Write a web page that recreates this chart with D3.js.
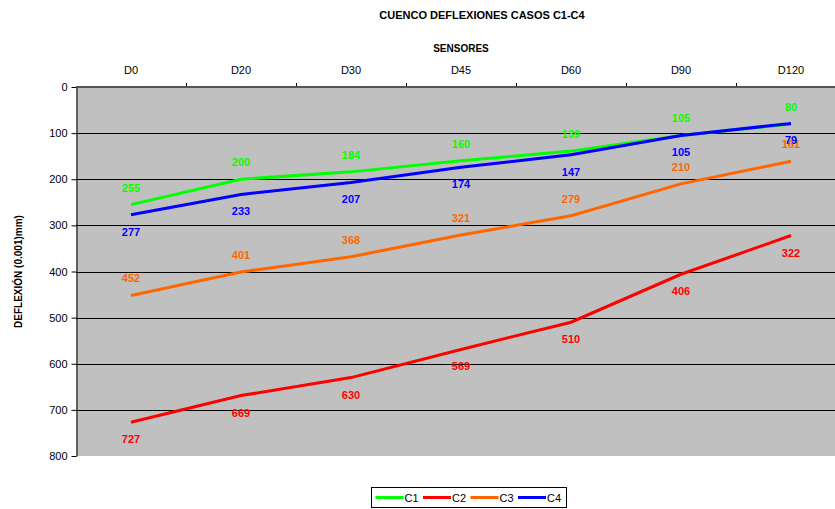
<!DOCTYPE html>
<html>
<head>
<meta charset="utf-8">
<script src="https://cdn.jsdelivr.net/npm/d3@7"></script>
<style>
  body { margin: 0; background: #fff; }
  text { font-family: "Liberation Sans", Arial, sans-serif; }
</style>
</head>
<body>
<div class="container"></div>
<script>
// sensors along the top axis
const sensors = ["D0", "D20", "D30", "D45", "D60", "D90", "D120"];

// deflections per case (0.001 mm)
const c1 = [255, 200, 184, 160, 139, 105, 80];
const c2 = [727, 669, 630, 569, 510, 406, 322];
const c3 = [452, 401, 368, 321, 279, 210, 161];
const c4 = [277, 233, 207, 174, 147, 105, 79];

const yTicks = [0, 100, 200, 300, 400, 500, 600, 700, 800];

const seriesNames = ["C1", "C2", "C3", "C4"];
const seriesValues = [c1, c2, c3, c4];
const seriesColors = ["#00ff00", "#ff0000", "#ff6600", "#0000ff"];
// data label goes above (-1) or below (+1) the point
const labelSide = [-1, 1, -1, 1];

const width = 835;
const height = 509;

const svg = d3.select(".container")
              .append("svg")
              .attr("width", width)
              .attr("height", height);

const x = d3.scaleBand()
            .domain(sensors)
            .range([76, 846]);

const y = d3.scaleLinear()
            .domain([0, 800])
            .range([87, 456]);

// plot background
svg.append("rect")
   .attr("x", x.range()[0])
   .attr("y", y(0))
   .attr("width", x.range()[1] - x.range()[0])
   .attr("height", y(800) - y(0))
   .attr("fill", "#c0c0c0");

// horizontal gridlines
svg.append("g")
   .selectAll("line")
   .data(yTicks.filter(t => t > 0 && t < 800))
   .enter()
   .append("line")
   .attr("x1", x.range()[0])
   .attr("x2", x.range()[1])
   .attr("y1", d => Math.round(y(d)) + 0.5)
   .attr("y2", d => Math.round(y(d)) + 0.5)
   .attr("stroke", "#000")
   .attr("stroke-width", 1);

// left axis
const yAxis = d3.axisLeft(y)
                .tickValues(yTicks)
                .tickSize(5)
                .tickSizeOuter(0);
const gy = svg.append("g")
   .attr("transform", "translate(" + (x.range()[0] + 0.5) + ",0)")
   .call(yAxis);
gy.select(".domain").attr("stroke", "#000");
gy.selectAll(".tick line").attr("stroke", "#000");
gy.selectAll(".tick text")
  .attr("x", -9)
  .style("font-size", "11px")
  .style("font-family", "Liberation Sans, Arial, sans-serif")
  .attr("fill", "#000");

// top axis (categories)
const xAxis = d3.axisTop(x)
                .tickSize(0)
                .tickPadding(13);
const gx = svg.append("g")
   .attr("transform", "translate(0," + y(0) + ")")
   .call(xAxis);
gx.select(".domain").remove();
gx.selectAll(".tick text")
  .style("font-size", "11px")
  .style("font-family", "Liberation Sans, Arial, sans-serif")
  .attr("fill", "#000");

// small tick marks between categories
svg.append("g")
   .selectAll("line")
   .data(sensors.slice(1))
   .enter()
   .append("line")
   .attr("x1", d => Math.round(x(d)) + 0.5)
   .attr("x2", d => Math.round(x(d)) + 0.5)
   .attr("y1", y(0) - 4)
   .attr("y2", y(0))
   .attr("stroke", "#000");

// top border line of plot
svg.append("line")
   .attr("x1", x.range()[0])
   .attr("x2", x.range()[1])
   .attr("y1", y(0))
   .attr("y2", y(0))
   .attr("stroke", "#555")
   .attr("stroke-width", 2);

// series lines
const line = d3.line()
               .x((d, i) => x(sensors[i]) + x.bandwidth() / 2)
               .y(d => y(d));

seriesValues.forEach((vals, s) => {
  svg.append("path")
     .datum(vals)
     .attr("d", line)
     .attr("fill", "none")
     .attr("stroke", seriesColors[s])
     .attr("stroke-width", 3);
});

// data labels
seriesValues.forEach((vals, s) => {
  svg.append("g")
     .selectAll("text")
     .data(vals)
     .enter()
     .append("text")
     .attr("x", (d, i) => x(sensors[i]) + x.bandwidth() / 2)
     .attr("y", d => y(d) + labelSide[s] * 17 + 4)
     .attr("text-anchor", "middle")
     .attr("fill", seriesColors[s])
     .style("font-size", "11px")
     .style("font-weight", "bold")
     .text(d => d);
});

// titles
svg.append("text")
   .attr("x", 482)
   .attr("y", 19)
   .attr("text-anchor", "middle")
   .style("font-size", "11px")
   .style("font-weight", "bold")
   .text("CUENCO DEFLEXIONES CASOS C1-C4");

svg.append("text")
   .attr("x", 461)
   .attr("y", 52)
   .attr("text-anchor", "middle")
   .style("font-size", "10px")
   .style("font-weight", "bold")
   .text("SENSORES");

svg.append("text")
   .attr("transform", "translate(22," + ((y(0) + y(800)) / 2) + ") rotate(-90)")
   .attr("text-anchor", "middle")
   .style("font-size", "10px")
   .style("font-weight", "bold")
   .text("DEFLEXIÓN (0.001)mm)");

// legend
const legend = svg.append("g")
   .attr("transform", "translate(371.5,487.5)");

legend.append("rect")
   .attr("width", 195)
   .attr("height", 20)
   .attr("fill", "#fff")
   .attr("stroke", "#000");

const legendItem = legend.selectAll(".item")
   .data(seriesNames)
   .enter()
   .append("g")
   .attr("class", "item")
   .attr("transform", (d, i) => "translate(" + (4 + i * 47.5) + ",10)");

legendItem.append("line")
   .attr("x1", 0)
   .attr("x2", 28)
   .attr("stroke", (d, i) => seriesColors[i])
   .attr("stroke-width", 3);

legendItem.append("text")
   .attr("x", 29)
   .attr("y", 4)
   .style("font-size", "11px")
   .text(d => d);
</script>
</body>
</html>
